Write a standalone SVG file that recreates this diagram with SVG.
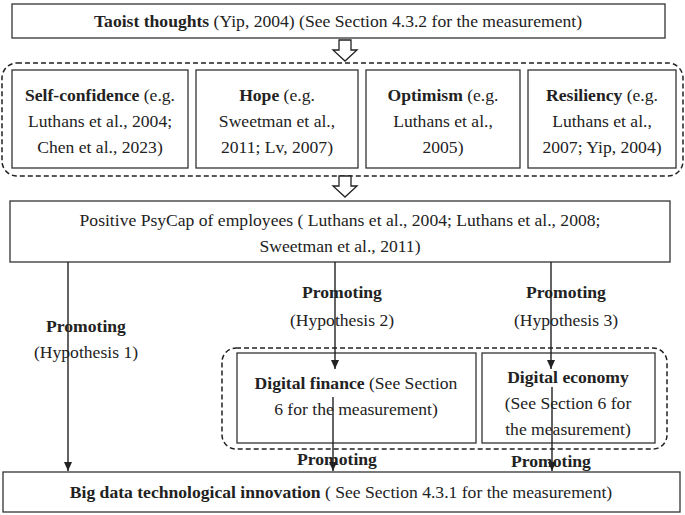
<svg xmlns="http://www.w3.org/2000/svg" width="685" height="515" viewBox="0 0 685 515" font-family="'Liberation Serif', 'Times New Roman', 'DejaVu Serif', serif">
<style>
text{font-family:'Liberation Serif','Times New Roman','DejaVu Serif',serif;font-size:17.6px;fill:#222;text-anchor:middle}
.b{font-weight:bold}
.box{fill:#fff;stroke:#333;stroke-width:1.3}
.dash{fill:none;stroke:#222;stroke-width:1.5;stroke-dasharray:5,3}
.ln{stroke:#222;stroke-width:1.4;fill:none}
.hol{fill:#fff;stroke:#222;stroke-width:1.3}
</style>
<defs><marker id="ah" markerWidth="10" markerHeight="10" refX="9" refY="5" orient="auto" markerUnits="userSpaceOnUse"><path d="M0,1 L9,5 L0,9 Z" fill="#222"/></marker></defs>
<rect class="dash" x="2" y="63" width="681" height="113" rx="15"/>
<rect class="dash" x="222" y="348" width="445" height="101" rx="14"/>
<g id="taoist"><rect class="box" x="12" y="4" width="653" height="34"/><text x="338" y="27"><tspan class="b">Taoist thoughts</tspan> (Yip, 2004) (See Section 4.3.2 for the measurement)</text></g>
<g id="selfconf"><rect class="box" x="12" y="70" width="176" height="98"/><text x="100" y="101"><tspan class="b">Self-confidence</tspan> (e.g.</text><text x="100" y="127">Luthans et al., 2004;</text><text x="100" y="153">Chen et al., 2023)</text></g>
<g id="hope"><rect class="box" x="196" y="70" width="162" height="98"/><text x="277" y="101"><tspan class="b">Hope</tspan> (e.g.</text><text x="277" y="127">Sweetman et al.,</text><text x="277" y="153">2011; Lv, 2007)</text></g>
<g id="optimism"><rect class="box" x="366" y="70" width="154" height="98"/><text x="443" y="101"><tspan class="b">Optimism</tspan> (e.g.</text><text x="443" y="127">Luthans et al.,</text><text x="443" y="153">2005)</text></g>
<g id="resiliency"><rect class="box" x="528" y="70" width="148" height="98"/><text x="602" y="101"><tspan class="b">Resiliency</tspan> (e.g.</text><text x="602" y="127">Luthans et al.,</text><text x="602" y="153">2007; Yip, 2004)</text></g>
<g id="psycap"><rect class="box" x="10" y="201" width="660" height="61"/><text x="340" y="226">Positive PsyCap of employees ( Luthans et al., 2004; Luthans et al., 2008;</text><text x="340" y="252">Sweetman et al., 2011)</text></g>
<g id="finance"><rect class="box" x="237" y="353" width="239" height="90"/><text x="356" y="389"><tspan class="b">Digital finance</tspan> (See Section</text><text x="356" y="415">6 for the measurement)</text></g>
<g id="economy"><rect class="box" x="482" y="353" width="173" height="90"/><text x="568" y="383" class="b">Digital economy</text><text x="568" y="409">(See Section 6 for</text><text x="568" y="435">the measurement)</text></g>
<g id="bigdata"><rect class="box" x="3" y="472" width="677" height="40"/><text x="341" y="498"><tspan class="b">Big data technological innovation</tspan> ( See Section 4.3.1 for the measurement)</text></g>
<g id="connectors">
<path class="hol" d="M339,40 h12 v10 h6 l-12,11 l-12,-11 h6 z"/>
<path class="hol" d="M339,176 h12 v10 h6 l-12,11 l-12,-11 h6 z"/>
<line class="ln" x1="68" y1="262" x2="68" y2="471" marker-end="url(#ah)"/>
<line class="ln" x1="335" y1="262" x2="335" y2="369" marker-end="url(#ah)"/>
<line class="ln" x1="551" y1="262" x2="551" y2="369" marker-end="url(#ah)"/>
<line class="ln" x1="333" y1="397" x2="333" y2="471" marker-end="url(#ah)"/>
<line class="ln" x1="552" y1="387" x2="552" y2="471" marker-end="url(#ah)"/>
</g>
<text x="86" y="332" class="b">Promoting</text><text x="86" y="358">(Hypothesis 1)</text>
<text x="342" y="298" class="b">Promoting</text><text x="342" y="326">(Hypothesis 2)</text>
<text x="566" y="298" class="b">Promoting</text><text x="566" y="326">(Hypothesis 3)</text>
<text x="337" y="465" class="b">Promoting</text>
<text x="551" y="467" class="b">Promoting</text>
</svg>
